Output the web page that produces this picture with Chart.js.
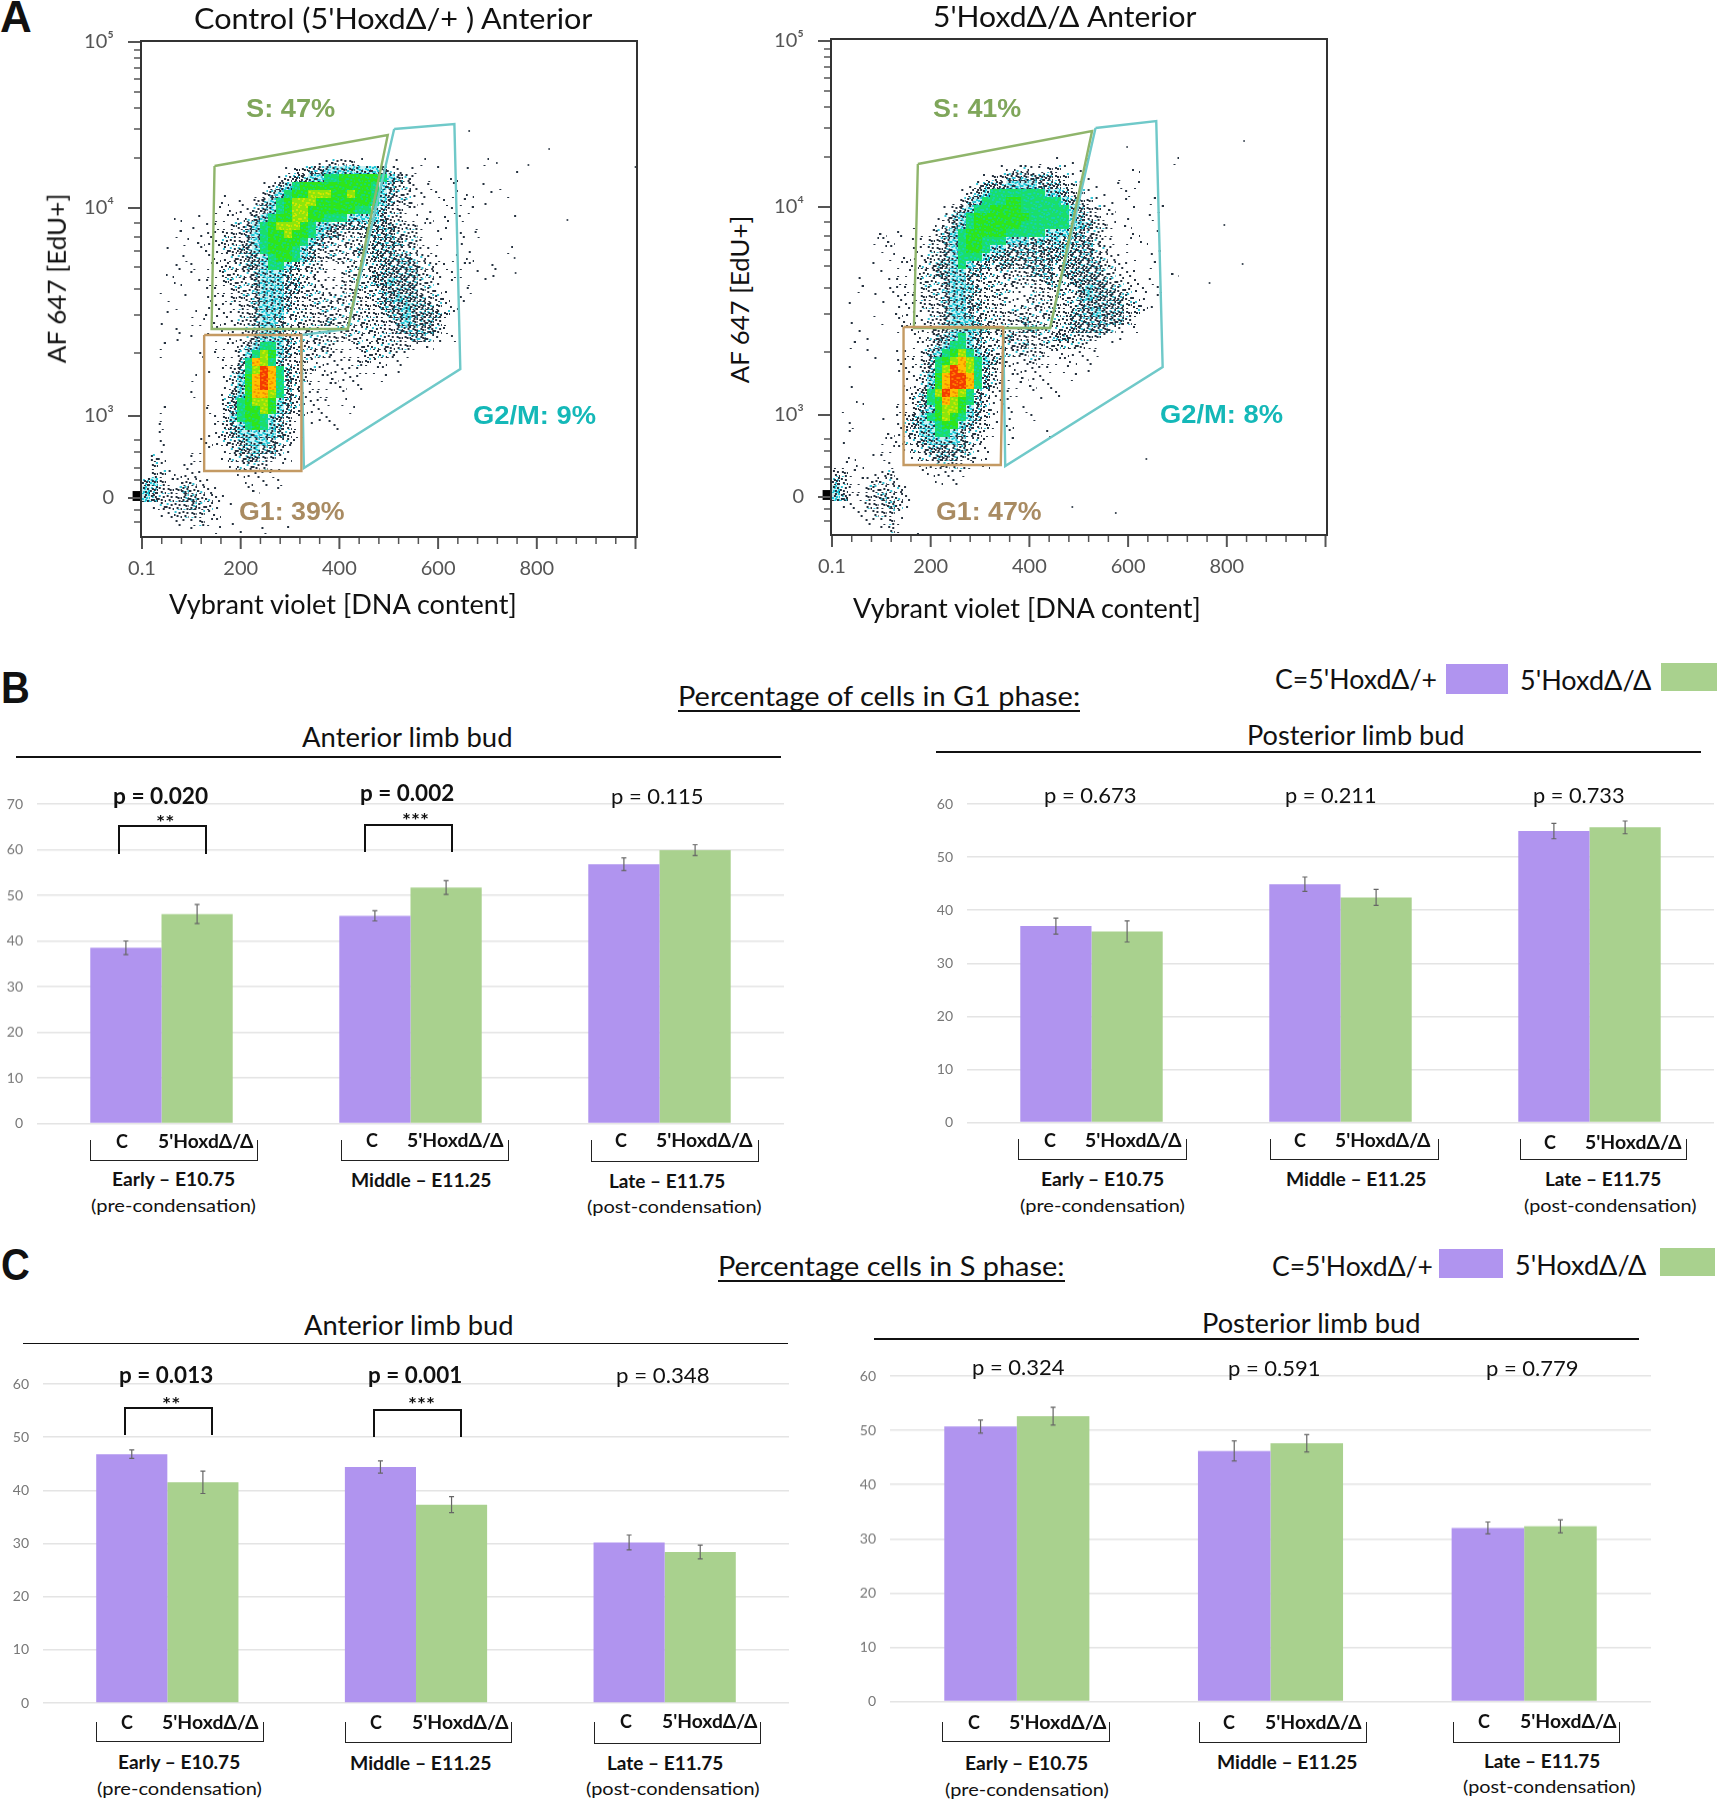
<!DOCTYPE html>
<html>
<head>
<meta charset="utf-8">
<title>Cell cycle phases</title>
<script src="https://cdn.jsdelivr.net/npm/chart.js@4/dist/chart.umd.js"></script>
<style>
body { margin: 0; background: #fff; }
#fig { position: relative; width: 1717px; height: 1800px; overflow: hidden; font-family: Lato, "Noto Sans", sans-serif; color: #111; }
#fig canvas { position: absolute; }
.t { position: absolute; white-space: nowrap; line-height: 1; transform-origin: 0 50%; }
.ln { position: absolute; box-sizing: border-box; }
</style>
</head>
<body>
<div id="fig"></div>
<script>
// bar values
var stages = ['Early', 'Middle', 'Late'];
var g1AntC = [38.5, 45.5, 56.8];
var g1AntKo = [45.9, 51.7, 59.9];
var g1AntCErr = [1.5, 1.1, 1.4];
var g1AntKoErr = [2.1, 1.5, 1.2];
var g1PostC = [37.0, 44.9, 54.9];
var g1PostKo = [36.0, 42.4, 55.6];
var g1PostCErr = [1.5, 1.35, 1.45];
var g1PostKoErr = [2.0, 1.5, 1.2];
var sAntC = [46.8, 44.4, 30.2];
var sAntKo = [41.5, 37.3, 28.4];
var sAntCErr = [0.8, 1.15, 1.4];
var sAntKoErr = [2.1, 1.5, 1.3];
var sPostC = [50.7, 46.2, 32.0];
var sPostKo = [52.6, 47.6, 32.3];
var sPostCErr = [1.2, 1.85, 1.1];
var sPostKoErr = [1.65, 1.6, 1.2];

// flow plots: x is DNA content, y is display channel of the biexponential axis
var xMajor = [0, 200, 400, 600, 800, 1000];
var xLabels = ['0.1', '200', '400', '600', '800', ''];
var xMinor = [40, 80, 120, 160, 240, 280, 320, 360, 440, 480, 520, 560, 640, 680, 720, 760, 840, 880, 920, 960];
var yMajor = [0, 82, 290, 456];
var yLabels = ['0', '10³', '10⁴', '10⁵'];
var yMinor = [448, 440, 430, 419, 406, 390, 369, 340, 275, 261, 247, 231, 209, 183, 145, 58, 46, 30, 18, -12, -24];

var gateS1 = [[147, 332], [498, 363], [417, 169], [141, 169], [147, 332]];
var gateG2M1 = [[511, 369], [633, 374], [645, 129], [328, 30], [323, 163], [417, 169], [511, 369]];
var gateG11 = [[126, 163], [323, 163], [323, 27], [126, 27], [126, 163]];
var gateS2 = [[174, 333], [527, 366], [442, 169], [166, 169], [174, 333]];
var gateG2M2 = [[534, 369], [657, 376], [670, 130], [351, 31], [347, 169], [442, 169], [534, 369]];
var gateG12 = [[145, 170], [347, 170], [342, 32], [145, 32], [145, 170]];

var strays1 = [[825, 349], [783, 333], [1000, 331], [862, 278], [757, 225], [755, 240], [719, 335], [663, 367]];
var strays2 = [[835, 356], [832, 233], [795, 272], [765, 214], [598, 350], [637, 38], [575, -16], [487, -10]];

// density read cell by cell, a = few dots ... c = dense dots, d = cyan, e,f = green, g = lime, h = yellow, i = red
var densityControl = [
"......................aabbba....a..a.......a",
"..................abbccdddddddcba.a..a...a.....a",
".................abccddeefffffedcba.a..a",
"...............abcdefffffffffedcbba.a..a...a.a",
"..........a...abcdeffgggffgffedcbbaa.a.a.a..a.a",
"..........a.a.bcdefgggfffffffedcbbaa..a.a..a",
".........a.aaabcdefggffffffeedcbbaa.a..a.a",
"....a..a.aaaabcdeffggffeeeddddcbbaa.a.a.a......a",
"......a.aaabbcdefgggfeddccccccccbbbaa.a...a",
"....a..aaabbbcdeffgffedccbbbccccbbba.a..a.a",
".....a.aaabbbcdeffffedcbbbbbbccccbba.a..a",
"...a...aaabbccdefffedcbbbbbcbcccbbbaa....a....a",
".....a..aaabbccdeffedcbbbbbbbcccccbbaa.a.a",
"....a.a.aabbbccdeedcbbbaaabbbbcccccbbaa.aa..a",
"...a..a.aabbbbcdddcbbbaaabbbbccccccbba.aa.a.a",
"....a..aaabbbbcdddccbbaaabbbbccdcccbba.a.a.a",
"..a.....aaabbbcdddccbbbaabbbbbcccccbbaa..a",
"...a.a..aaabbbcdddcbbbbbbbbbbbccdcccbba.a",
"....a...aaaabbcdddcbbbbbbbbbbbcccdcccbaa",
"...a..a.aaaabbcdddbbbbbbbbbbbbbccdccccba",
"..a...aa.aaabbcddcbbbbbcbbbbbbbbcdcccba",
"....a...aaaaabcddcbbbbbbbbbbbbbbcccccba",
"....a.a..aaaabcdddcbbbbbbbbbabbbbbccba.a",
"..a......aaabcdeedcbbbbbaaabbbbbbba.a",
"..a....a.aaabdegfdcbbbbbaaaabbbbaa",
"..........aacehgecbbbaaaaaabbaa.a",
"........a.abcegihecbbbaaaaaaaaa.a",
"......a...abdfhihecbbaaaaaaa..a",
"..........abdfhihecbaaaaaa.a",
"......a...acdfhhgecbaaaa.a",
"........a.bcefggfdcbaaaa.a",
"..a.....a.bceffgfdcbaaa...a",
"..a......abdeffedcbaa.aa",
"..a......abcdefedcba.a..a",
"..a.....aabcdddddcbaa",
"..a....aaabbcdddcbba",
"..a...aaa.abccdccba",
".ba...aa..abbccbbaa",
".ba..aa....abbbbaa",
".bbaaaaa....aaaaa",
"cdbaabbaa....a.a.a",
"dcbbbcbbaa...aa..a",
"dcbbbccbbaa",
".abbbbcbba.a",
"..aabbbbaa",
"....aaabaa.a",
"......a..a..a..a..a"
];
var densityMutant = [
"..........................a.a.a.a..........a",
".....................aabbaabba.a......a",
"...................abbccccccbba.a...a",
".................abcccddddcccbba.a..a.a",
"................abcdeeeeeeeddcbba.a..a",
"...............abcdeeeffeeeeedcbba.a.a..a",
"..............abcdeeffffeeeeeedcbbaa..a..a",
".............abcdefffffffeeeeedcbbaa.a..a",
"..........a..abcdeffffffeeeeeeddcbba.a",
"......a.a..aabcdefffffeeeeedddccbbaa..a..a",
".....aaa..aabbcdeffeeedddcdcdccccbaa.a.a",
"......aa..aabbcdeffeddcccccccdcccbba.a...a",
".......a.aaabbcdeeedcccccccccccccbbaa.a.a",
".....a..aaabbccdedccbccbccccbcccccbbaa..a",
"......a.aaabbccddccbbbbbbcccbcccccbbaaa....a",
"...a...aaaabbbcddcbbbbbbbbbcbbcccccbbaa.a",
"...a...aaaabbbcdddcbbbbaabbbbbbcdcccbbaa.a",
".....a..aaabbbcddcbbbbaaabbbbbbcdccccbaa.a",
"..a...a.aaabbbcddccbbbaabbbbbbbccccccbbaa",
".....a..aaaabbcddcbbbbbbbbbbbbcccdcccbba",
"..a...a.aaaabbcdddcbbbbbcbbbbbcccccccba",
"...a....aaaabbcddddcbbbbccbbbbcccccba.a",
"....a.....aabccdedcbbbcbbbbbccbbbba.a",
"..a.......aabcdeedcbbbbbcbbbbbbbaa.a",
"....a...aaabcdefgedcbbbbbbbaaaaa.a",
".....a..aaabcefghgedcbaaabaaaaa.a",
"..a.....aaabcegihgecbaaaaaaa.a..a",
".........aabdfhiihecbaaaaaa...a",
"..a......aabdfhiihecbaaa.a.a",
".........abcegihgecbaaaa.a..a",
"...a....aabcefhgfecbaaa...a",
".a......aabcdfggfdcba.a.a",
"......a.abcdefgfedcba.a..a",
"..a.....abcddeffdcbba.a",
"..a....aabbddeedcbbaa.a....a",
".a....aaabbcddddcbba..a",
"......aaaabbcccccbaa",
"..a..aa...abbcccbbaa",
"aa.a...a...aabbbba.a",
"bba..aab...aaaaaa",
"cbaaabbba....a.a",
"dbaabbbbba",
"dcaabbcbba",
".aa.bbbcba",
"...aabbba",
"....aaaba",
"......aba",
".....aaaa.a"
];

var PURPLE = '#b094ef';
var GREEN = '#a9d18e';
var fig = document.getElementById('fig');
var CELL_X = 16, CELL_Y = 8, TOP_CHANNEL = 340;

// stipple tiles that stand for a density class
var dotSpots = [[1,1],[5,2],[3,5],[7,6],[0,4],[6,0],[2,7],[4,3],[7,3],[2,2],[5,6],[0,7],[3,0],[6,4],[1,5],[4,7]];
var tileLooks = {
	a: {dark: 1},
	b: {dark: 4, spot: 1, spotColor: '#35c4d6'},
	c: {dark: 8, spot: 3, spotColor: '#35c4d6'},
	d: {bg: '#c8f2f4', dark: 4, spot: 7, spotColor: '#1fc7d8'},
	e: {bg: '#1adf6a', spot: 5, spotColor: '#14d4b0'},
	f: {bg: '#2ee61a', spot: 5, spotColor: '#18dc70'},
	g: {bg: '#8ce60c', spot: 5, spotColor: '#d0e800'},
	h: {bg: '#ffc000', spot: 5, spotColor: '#f59000'},
	i: {bg: '#f43c00', spot: 5, spotColor: '#ff7a00'}
};
var tiles = {};
Object.keys(tileLooks).forEach(function(k) {
	tiles[k] = [];
	for (var v = 0; v < 8; v++) {
		var look = tileLooks[k];
		var c = document.createElement('canvas');
		c.width = 8; c.height = 8;
		var g = c.getContext('2d');
		if (look.bg) { g.fillStyle = look.bg; g.fillRect(0, 0, 8, 8); }
		var n = 0;
		var spots = look.spot || 0;
		g.fillStyle = look.spotColor || '#000';
		for (var i = 0; i < spots; i++) {
			var s = dotSpots[(v * 3 + n++) % 16];
			g.fillRect(s[0], s[1], 2, 2);
		}
		var darks = look.dark || 0;
		if (k == 'a' && v % 2) darks = 2;
		g.fillStyle = '#26323f';
		for (var j = 0; j < darks; j++) {
			var d = dotSpots[(v * 3 + n++) % 16];
			g.fillRect(d[0], d[1], 2, 2);
		}
		tiles[k].push(c);
	}
});

function cellsFrom(rows) {
	var pts = [];
	rows.forEach(function(row, i) {
		for (var j = 0; j < row.length; j++) {
			if (row[j] != '.') {
				pts.push({x: (j + 0.5) * CELL_X, y: TOP_CHANNEL - (i + 0.5) * CELL_Y, lv: row[j], v: (j * 5 + i * 3) % 8});
			}
		}
	});
	return pts;
}

function xy(list) {
	return list.map(function(p) { return {x: p[0], y: p[1]}; });
}

function gate(list, color) {
	return {data: xy(list), showLine: true, borderColor: color, borderWidth: 2.4, pointRadius: 0, fill: false, tension: 0};
}

// puts the plot area exactly where the reference has it
function pinPlot(left, top, right, bottom) {
	return {
		id: 'pinPlot',
		afterLayout: function(chart) {
			var xs = chart.scales.x, ys = chart.scales.y;
			chart.chartArea.left = left;
			chart.chartArea.top = top;
			chart.chartArea.right = right;
			chart.chartArea.bottom = bottom;
			chart.chartArea.width = right - left;
			chart.chartArea.height = bottom - top;
			xs.left = left; xs.right = right; xs.width = right - left;
			xs.top = bottom; xs.bottom = chart.height; xs.height = chart.height - bottom;
			ys.left = 0; ys.right = left; ys.width = left;
			ys.top = top; ys.bottom = bottom; ys.height = bottom - top;
			xs.configure();
			ys.configure();
		}
	};
}

var flowAxes = {
	id: 'flowAxes',
	afterDraw: function(chart) {
		var c = chart.ctx, a = chart.chartArea, xs = chart.scales.x, ys = chart.scales.y;
		c.save();
		c.strokeStyle = '#555';
		function yTick(v, len, w) {
			var p = ys.getPixelForValue(v);
			c.lineWidth = w; c.beginPath(); c.moveTo(a.left, p); c.lineTo(a.left - len, p); c.stroke();
		}
		function xTick(v, len, w) {
			var p = xs.getPixelForValue(v);
			c.lineWidth = w; c.beginPath(); c.moveTo(p, a.bottom); c.lineTo(p, a.bottom + len); c.stroke();
		}
		yMajor.forEach(function(v) { yTick(v, 13, 2); });
		yMinor.forEach(function(v) { yTick(v, 7, 1.5); });
		xMajor.forEach(function(v) { xTick(v, 12, 2); });
		xMinor.forEach(function(v) { xTick(v, 7, 1.5); });
		c.strokeStyle = '#333';
		c.lineWidth = 2;
		c.strokeRect(a.left, a.top, a.right - a.left, a.bottom - a.top);
		c.restore();
	}
};

var errorBars = {
	id: 'errorBars',
	afterDatasetsDraw: function(chart) {
		var c = chart.ctx, ys = chart.scales.y;
		c.save();
		c.strokeStyle = '#666';
		c.lineWidth = 1.2;
		chart.data.datasets.forEach(function(ds, n) {
			chart.getDatasetMeta(n).data.forEach(function(bar, i) {
				var top = ys.getPixelForValue(ds.data[i] + ds.err[i]);
				var low = ys.getPixelForValue(ds.data[i] - ds.err[i]);
				c.beginPath();
				c.moveTo(bar.x, top); c.lineTo(bar.x, low);
				c.moveTo(bar.x - 2.5, top); c.lineTo(bar.x + 2.5, top);
				c.moveTo(bar.x - 2.5, low); c.lineTo(bar.x + 2.5, low);
				c.stroke();
			});
		});
		c.restore();
	}
};

function addCanvas(left, top, w, h) {
	var cv = document.createElement('canvas');
	cv.width = w; cv.height = h;
	cv.style.left = left + 'px';
	cv.style.top = top + 'px';
	cv.style.width = w + 'px';
	cv.style.height = h + 'px';
	fig.appendChild(cv);
	return cv;
}

function flowChart(l, t, r, b, yMin, yMax, density, strays, gates) {
	var cv = addCanvas(l - 70, t - 14, r - l + 80, b - t + 74);
	cv.style.filter = 'blur(0.5px)';
	var cells = cellsFrom(density);
	var sets = gates.slice();
	sets.push({data: xy(strays), pointRadius: 1.2, pointStyle: 'rect', backgroundColor: '#26323f', borderWidth: 0});
	sets.push({data: cells, pointRadius: 4, borderWidth: 0, pointStyle: cells.map(function(p) { return tiles[p.lv][p.v]; })});
	sets.push({data: [{x: -9, y: 2}], pointRadius: 7, pointStyle: 'rect', backgroundColor: '#000', borderWidth: 0, clip: false});
	new Chart(cv, {
		type: 'scatter',
		data: {datasets: sets},
		plugins: [pinPlot(70, 14, 70 + r - l, 14 + b - t), flowAxes],
		options: {
			responsive: false,
			animation: false,
			events: [],
			plugins: {legend: {display: false}, tooltip: {enabled: false}},
			scales: {
				x: {
					type: 'linear', min: -2, max: 1003,
					grid: {display: false, drawTicks: false},
					border: {display: false},
					afterBuildTicks: function(a) { a.ticks = xMajor.map(function(v) { return {value: v}; }); },
					ticks: {
						autoSkip: false, maxRotation: 0, padding: 20, color: '#555',
						font: {family: 'Lato', size: 20},
						callback: function(v) { return xLabels[xMajor.indexOf(v)]; }
					}
				},
				y: {
					type: 'linear', min: yMin, max: yMax,
					grid: {display: false, drawTicks: false},
					border: {display: false},
					afterBuildTicks: function(a) { a.ticks = yMajor.map(function(v) { return {value: v}; }); },
					ticks: {
						autoSkip: false, padding: 27, color: '#555',
						font: {family: 'Lato', size: 20},
						callback: function(v) { return yLabels[yMajor.indexOf(v)]; }
					}
				}
			}
		}
	});
}

function barChart(l, t, r, b, yMax, c, ko, cErr, koErr) {
	var cv = addCanvas(l - 40, t - 12, r - l + 44, b - t + 22);
	new Chart(cv, {
		type: 'bar',
		data: {
			labels: stages,
			datasets: [
				{label: 'C', data: c, err: cErr, backgroundColor: PURPLE},
				{label: 'KO', data: ko, err: koErr, backgroundColor: GREEN}
			]
		},
		plugins: [pinPlot(40, 12, 40 + r - l, 12 + b - t), errorBars],
		options: {
			responsive: false,
			animation: false,
			events: [],
			plugins: {legend: {display: false}, tooltip: {enabled: false}},
			datasets: {bar: {barPercentage: 1, categoryPercentage: 0.572}},
			scales: {
				x: {display: false},
				y: {
					min: 0, max: yMax,
					grid: {color: '#e4e4e4', lineWidth: 1.5, drawTicks: false},
					border: {display: false},
					ticks: {stepSize: 10, padding: 14, color: '#777', font: {family: 'Lato', size: 14}}
				}
			}
		}
	});
}

// text with the width of the reference
function label(str, left, right, yc, size, opts) {
	opts = opts || {};
	var s = document.createElement('span');
	s.className = 't';
	s.textContent = str;
	s.style.fontSize = size + 'px';
	s.style.left = left + 'px';
	s.style.top = (yc - size / 2) + 'px';
	if (opts.bold) s.style.fontWeight = 'bold';
	if (opts.color) s.style.color = opts.color;
	if (opts.family) s.style.fontFamily = opts.family;
	fig.appendChild(s);
	s.style.transform = 'scaleX(' + ((right - left) / s.offsetWidth) + ')';
	return s;
}

function upLabel(str, cx, y1, y2, size) {
	var s = document.createElement('span');
	s.className = 't';
	s.textContent = str;
	s.style.fontSize = size + 'px';
	fig.appendChild(s);
	var w = s.offsetWidth;
	s.style.left = (cx - w / 2) + 'px';
	s.style.top = ((y1 + y2) / 2 - size / 2) + 'px';
	s.style.transformOrigin = '50% 50%';
	s.style.transform = 'rotate(-90deg) scaleX(' + ((y2 - y1) / w) + ')';
}

function hline(x1, x2, y, w, color) {
	var d = document.createElement('div');
	d.className = 'ln';
	d.style.cssText = 'left:' + x1 + 'px;top:' + (y - w / 2) + 'px;width:' + (x2 - x1) + 'px;height:' + w + 'px;background:' + (color || '#111');
	fig.appendChild(d);
}

function box(x1, x2, y1, y2, color) {
	var d = document.createElement('div');
	d.className = 'ln';
	d.style.cssText = 'left:' + x1 + 'px;top:' + y1 + 'px;width:' + (x2 - x1) + 'px;height:' + (y2 - y1) + 'px;background:' + color;
	fig.appendChild(d);
}

function sigBracket(x1, x2, top, bottom, stars, sx, sy) {
	var d = document.createElement('div');
	d.className = 'ln';
	d.style.cssText = 'left:' + x1 + 'px;top:' + top + 'px;width:' + (x2 - x1) + 'px;height:' + (bottom - top) + 'px;border:2px solid #111;border-bottom:0';
	fig.appendChild(d);
	var w = stars.length == 2 ? 18 : 27;
	label(stars, sx - w / 2, sx + w / 2, sy + 3, 18, {bold: true});
}

function stageBracket(x1, x2, top, bottom) {
	var d = document.createElement('div');
	d.className = 'ln';
	d.style.cssText = 'left:' + x1 + 'px;top:' + top + 'px;width:' + (x2 - x1) + 'px;height:' + (bottom - top) + 'px;border:1.5px solid #222;border-top:0';
	fig.appendChild(d);
}

function cGroup(cx, lx1, lx2, yc) {
	label('C', cx - 6, cx + 6, yc, 18, {bold: true});
	label("5'HoxdΔ/Δ", lx1, lx2, yc, 18, {bold: true});
}

// panel A
flowChart(141, 41, 637, 537, -39, 457, densityControl, strays1, [gate(gateG11, '#c49a63'), gate(gateS1, '#8fb56b'), gate(gateG2M1, '#6fc9c9')]);
flowChart(831, 39, 1327, 535, -38, 458, densityMutant, strays2, [gate(gateG12, '#c49a63'), gate(gateS2, '#8fb56b'), gate(gateG2M2, '#6fc9c9')]);

var ARIAL = '"Liberation Sans", sans-serif';
label('A', 0, 32, 17, 44, {bold: true, family: ARIAL});
label('B', 1, 30, 688, 44, {bold: true, family: ARIAL});
label('C', 1, 30, 1265, 44, {bold: true, family: ARIAL});

label("Control (5'HoxdΔ/+ ) Anterior", 194, 593, 18, 28);
label("5'HoxdΔ/Δ Anterior", 933, 1197, 16, 28);
upLabel('AF 647 [EdU+]', 56, 193, 363, 25);
upLabel('AF 647 [EdU+]', 739, 215, 383, 25);
label('Vybrant violet [DNA content]', 169, 517, 604, 26);
label('Vybrant violet [DNA content]', 853, 1201, 608, 26);

var TXT_S = '#7fa65a', TXT_G2 = '#14b8b8', TXT_G1 = '#a98b62';
label('S: 47%', 246, 335, 108, 26, {bold: true, color: TXT_S, family: ARIAL});
label('G2/M: 9%', 473, 596, 415, 26, {bold: true, color: TXT_G2, family: ARIAL});
label('G1: 39%', 239, 345, 511, 26, {bold: true, color: TXT_G1, family: ARIAL});
label('S: 41%', 933, 1021, 108, 26, {bold: true, color: TXT_S, family: ARIAL});
label('G2/M: 8%', 1160, 1283, 414, 26, {bold: true, color: TXT_G2, family: ARIAL});
label('G1: 47%', 936, 1042, 511, 26, {bold: true, color: TXT_G1, family: ARIAL});

// panel B
barChart(37, 804, 784, 1122.5, 70, g1AntC, g1AntKo, g1AntCErr, g1AntKoErr);
barChart(967, 803.5, 1714, 1122, 60, g1PostC, g1PostKo, g1PostCErr, g1PostKoErr);

label('Percentage of cells in G1 phase:', 678, 1080, 695, 27);
hline(678, 1080, 711, 2);
label("C=5'HoxdΔ/+", 1275, 1437, 678, 27);
box(1446, 1508, 664, 694, PURPLE);
label("5'HoxdΔ/Δ", 1520, 1651, 679, 27);
box(1661, 1717, 663, 691, GREEN);

label('Anterior limb bud', 302, 512, 737, 26);
hline(16, 781, 757, 1.5);
label('Posterior limb bud', 1247, 1465, 735, 26);
hline(936, 1701, 752, 1.5);

label('p = 0.020', 113, 208, 796, 22, {bold: true});
label('p = 0.002', 360, 454, 793, 22, {bold: true});
label('p = 0.115', 611, 704, 796, 22);
label('p = 0.673', 1044, 1137, 795, 22);
label('p = 0.211', 1285, 1377, 795, 22);
label('p = 0.733', 1533, 1625, 795, 22);
sigBracket(118, 207, 825, 854, '**', 165, 819);
sigBracket(364, 453, 824, 852, '***', 415, 817);

cGroup(122, 158, 254, 1141);
cGroup(372, 407, 504, 1140);
cGroup(621, 656, 753, 1140);
stageBracket(90, 258, 1140, 1161);
stageBracket(341, 509, 1140, 1161);
stageBracket(591, 759, 1140, 1162);
label('Early – E10.75', 112, 235, 1179, 18, {bold: true});
label('(pre-condensation)', 91, 256, 1205, 18);
label('Middle – E11.25', 351, 492, 1180, 18, {bold: true});
label('Late – E11.75', 609, 725, 1181, 18, {bold: true});
label('(post-condensation)', 587, 762, 1206, 18);

cGroup(1050, 1085, 1182, 1140);
cGroup(1300, 1335, 1431, 1140);
cGroup(1550, 1585, 1682, 1142);
stageBracket(1018, 1187, 1139, 1160);
stageBracket(1270, 1439, 1139, 1160);
stageBracket(1520, 1687, 1139, 1160);
label('Early – E10.75', 1041, 1164, 1179, 18, {bold: true});
label('(pre-condensation)', 1020, 1185, 1205, 18);
label('Middle – E11.25', 1286, 1427, 1179, 18, {bold: true});
label('Late – E11.75', 1545, 1661, 1179, 18, {bold: true});
label('(post-condensation)', 1524, 1697, 1205, 18);

// panel C
barChart(43, 1383.5, 789, 1702.5, 60, sAntC, sAntKo, sAntCErr, sAntKoErr);
barChart(890, 1376, 1651, 1700.5, 60, sPostC, sPostKo, sPostCErr, sPostKoErr);

label('Percentage cells in S phase:', 718, 1065, 1265, 27);
hline(718, 1065, 1281, 2);
label("C=5'HoxdΔ/+", 1272, 1433, 1265, 27);
box(1439, 1503, 1249, 1278, PURPLE);
label("5'HoxdΔ/Δ", 1515, 1646, 1264, 27);
box(1660, 1715, 1248, 1276, GREEN);

label('Anterior limb bud', 304, 513, 1325, 26);
hline(23, 788, 1343.5, 1.5);
label('Posterior limb bud', 1202, 1421, 1323, 26);
hline(874, 1639, 1339, 1.5);

label('p = 0.013', 119, 213, 1375, 22, {bold: true});
label('p = 0.001', 368, 462, 1375, 22, {bold: true});
label('p = 0.348', 616, 710, 1375, 22);
label('p = 0.324', 972, 1065, 1367, 22);
label('p = 0.591', 1228, 1321, 1368, 22);
label('p = 0.779', 1486, 1579, 1368, 22);
sigBracket(124, 213, 1407, 1435, '**', 171, 1401);
sigBracket(373, 462, 1409, 1437, '***', 421, 1401);

cGroup(127, 162, 259, 1722);
cGroup(376, 412, 509, 1722);
cGroup(626, 662, 758, 1721);
stageBracket(96, 264, 1722, 1742);
stageBracket(345, 512, 1722, 1743);
stageBracket(594, 761, 1722, 1744);
label('Early – E10.75', 118, 240, 1762, 18, {bold: true});
label('(pre-condensation)', 97, 262, 1788, 18);
label('Middle – E11.25', 350, 492, 1763, 18, {bold: true});
label('Late – E11.75', 607, 723, 1763, 18, {bold: true});
label('(post-condensation)', 586, 760, 1788, 18);

cGroup(974, 1009, 1107, 1722);
cGroup(1229, 1265, 1362, 1722);
cGroup(1484, 1520, 1617, 1721);
stageBracket(942, 1110, 1722, 1742);
stageBracket(1199, 1367, 1722, 1743);
stageBracket(1453, 1620, 1722, 1743);
label('Early – E10.75', 965, 1088, 1763, 18, {bold: true});
label('(pre-condensation)', 945, 1109, 1789, 18);
label('Middle – E11.25', 1217, 1358, 1762, 18, {bold: true});
label('Late – E11.75', 1484, 1600, 1761, 18, {bold: true});
label('(post-condensation)', 1463, 1636, 1786, 18);
</script>
</body>
</html>
